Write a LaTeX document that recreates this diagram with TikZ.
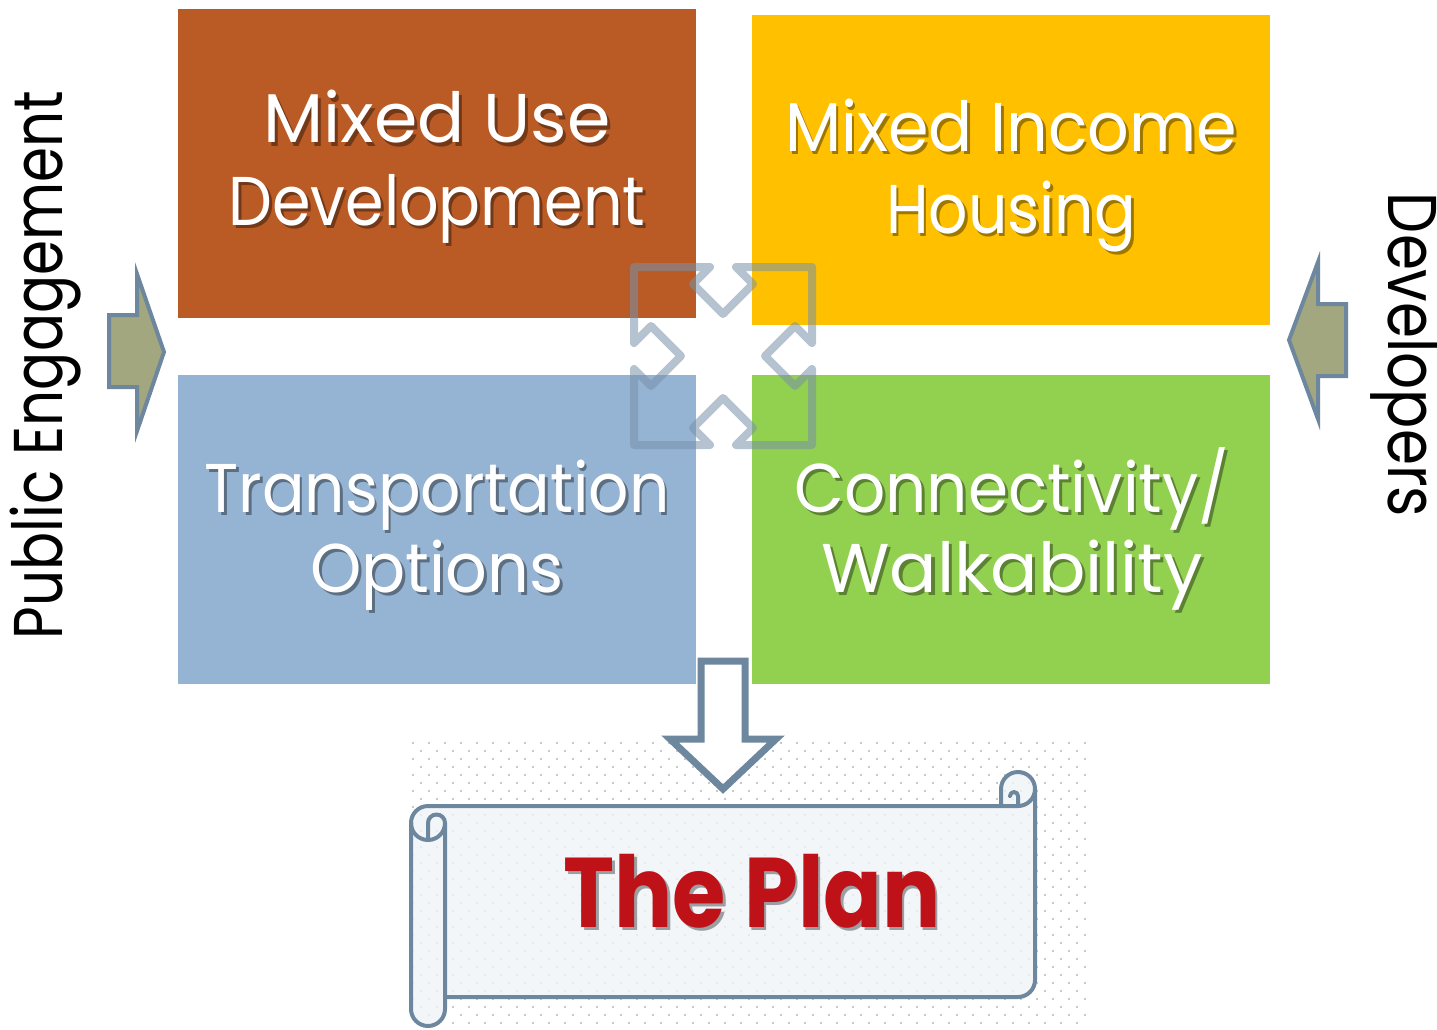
\documentclass[tikz,border=0pt]{standalone}
\usepackage{fontspec}
\usepackage{graphicx}
\newfontfamily\gothicface{Poppins}

\definecolor{rust}{RGB}{186,90,37}
\definecolor{amber}{RGB}{255,192,0}
\definecolor{steelblue}{RGB}{149,179,210}
\definecolor{leaf}{RGB}{146,208,80}
\definecolor{slateline}{RGB}{109,135,158}
\definecolor{olive}{RGB}{162,167,127}
\definecolor{crossline}{RGB}{120,145,170}
\definecolor{paper}{RGB}{240,244,248}
\definecolor{dotgrey}{RGB}{200,200,200}
\definecolor{planred}{RGB}{190,18,24}

\tikzset{
  tile/.style={inner sep=0, outer sep=0, minimum width=518, minimum height=309},
  gothic/.style={font=\gothicface\fontsize{69}{74}\selectfont, inner sep=0, outer sep=0, anchor=base},
  tilefont/.style={gothic, text=white},
  sidetext/.style={gothic, text=black},
  sidearrow/.style={fill=olive, draw=slateline, line width=4},
  downarrow/.style={fill=white, draw=slateline, line width=7},
  scrollline/.style={draw=slateline, line width=4, line cap=round, line join=round},
  quad/.style={draw=crossline, draw opacity=0.55, line width=8, line join=round},
  planfont/.style={font=\gothicface\bfseries\fontsize{99}{104}\selectfont, inner sep=0, outer sep=0, anchor=base},
}

% text with a drop shadow set 3pt right and down, stretched to a given width
\newcommand{\shadowed}[3]{%
  \resizebox{#1pt}{\height}{\rlap{\kern3pt\raisebox{-3pt}{\color{#2}#3}}#3}}
% one white caption line on a tile
\newcommand{\tilecaption}[6]{%
  \node[tilefont] (#1) at (#2,#3) {\shadowed{#4}{#5}{#6}};
}

\begin{document}
\begin{tikzpicture}[x=1pt, y=-1pt]
\useasboundingbox (0,0) rectangle (1437,1030);

% the four topic tiles
\node[tile, fill=rust] (mixeduse) at (437,163.5) {};
\node[tile, fill=amber] (mixedincome) at (1011,170) {};
\node[tile, fill=steelblue] (transport) at (437,529.5) {};
\node[tile, fill=leaf] (connect) at (1011,529.5) {};

% translucent frame with four inward chevrons
\draw[quad] (634,267) -- (710,267) -- (693,284) -- (723,314) -- (753,284) -- (736,267)
  -- (812,267) -- (812,343) -- (795,326) -- (765,356) -- (795,386) -- (812,369)
  -- (812,445) -- (736,445) -- (753,428) -- (723,398) -- (693,428) -- (710,445)
  -- (634,445) -- (634,369) -- (651,386) -- (681,356) -- (651,326) -- (634,343) -- cycle;

% captions
\tilecaption{mu1}{437}{143}{347}{rust!62!black}{Mixed Use}
\tilecaption{mu2}{437}{225}{417}{rust!62!black}{Development}
\tilecaption{mi1}{1011}{152}{452}{amber!62!black}{Mixed Income}
\tilecaption{mi2}{1011}{233}{250}{amber!62!black}{Housing}
\tilecaption{tr1}{437}{512}{465}{steelblue!62!black}{Transportation}
\tilecaption{tr2}{437}{592}{253}{steelblue!62!black}{Options}
\tilecaption{cw1}{1012}{512}{435}{leaf!62!black}{Connectivity/}
\tilecaption{cw2}{1012}{592}{381}{leaf!62!black}{Walkability}

% side inputs
\draw[sidearrow] (109,315) -- (137,315) -- (137,274) -- (164,352) -- (137,431) -- (137,387) -- (109,387) -- cycle;
\draw[sidearrow] (1346,304) -- (1318,304) -- (1318,262) -- (1289,340) -- (1318,419) -- (1318,376) -- (1346,376) -- cycle;
\node[sidetext, rotate=90] (public) at (63,365) {\resizebox{548pt}{\height}{Public Engagement}};
\node[sidetext, rotate=-90] (developers) at (1388,355) {\resizebox{324pt}{\height}{Developers}};

% dotted backdrop behind the scroll
\foreach \r in {0,...,35} {
  \pgfmathtruncatemacro\yy{743+8*\r}
  \pgfmathtruncatemacro\xo{mod(\r,2)==0 ? 413 : 421}
  \pgfmathtruncatemacro\nc{mod(\r,2)==0 ? 42 : 41}
  \foreach \c in {0,...,\nc} {
    \fill[dotgrey] (\xo+16*\c-1,\yy-1) rectangle ++(2,2);
  }
}

% the scroll
\fill[paper, fill opacity=0.8] (411,823) arc[start angle=180,end angle=270,radius=17]
  -- (1001,806) -- (1001,789) arc[start angle=180,end angle=360,radius=17]
  -- (1035,980) arc[start angle=0,end angle=90,radius=17]
  -- (445,997) -- (445,1009) arc[start angle=0,end angle=180,radius=17] -- cycle;
\draw[scrollline] (445,997) -- (1018,997) arc[start angle=90,end angle=0,radius=17]
  -- (1035,789) arc[start angle=0,end angle=-180,radius=17] -- (1001,806);
\draw[scrollline] (428,806) -- (1018,806) arc[start angle=90,end angle=0,radius=17];
\draw[scrollline] (428,840) -- (428,823) arc[start angle=180,end angle=360,radius=8.5]
  -- (445,1009) arc[start angle=0,end angle=180,radius=17]
  -- (411,823) arc[start angle=180,end angle=270,radius=17];
\draw[scrollline] (411,823) arc[start angle=180,end angle=0,radius=17];
\draw[scrollline] (1018,806) -- (1018,796) arc[start angle=0,end angle=-180,radius=4];

% arrow down into the plan
\draw[downarrow, line join=miter] (701,661) -- (745,661) -- (745,739) -- (776,739) -- (723,789)
  -- (670,739) -- (701,739) -- cycle;

\node[planfont, text=planred] (plan) at (752,927) {\shadowed{377}{paper!65!black}{The Plan}};
\end{tikzpicture}
\end{document}
